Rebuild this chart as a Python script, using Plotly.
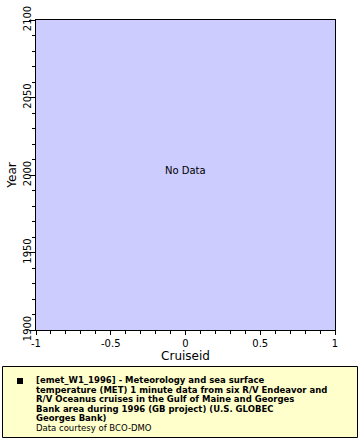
import plotly.graph_objects as go

# Data (empty: chart shows "No Data")
cruiseid = []
year = []
x_range = [-1, 1]
y_range = [1900, 2100]
x_tick_vals = [-1, -0.5, 0, 0.5, 1]
x_tick_text = ["-1", "-0.5", "0", "0.5", "1"]
y_tick_vals = [1900, 1950, 2000, 2050, 2100]
y_tick_text = ["1900", "1950", "2000", "2050", "2100"]
legend_lines = [
    "<b>[emet_W1_1996] - Meteorology and sea surface</b>",
    "<b>temperature (MET) 1 minute data from six R/V Endeavor and</b>",
    "<b>R/V Oceanus cruises in the Gulf of Maine and Georges</b>",
    "<b>Bank area during 1996 (GB project) (U.S. GLOBEC</b>",
    "<b>Georges Bank)</b>",
    "Data courtesy of BCO-DMO",
]

FONT = "DejaVu Sans"
W, H = 360, 440
L, R, T, B = 36, 25, 20, 110
pw, ph = W - L - R, H - T - B

def px_x(p):
    return (p - L) / pw

def px_y(p):
    return (H - B - p) / ph

fig = go.Figure()
fig.add_trace(go.Scatter(x=cruiseid, y=year, mode="markers", showlegend=False))

fig.update_layout(
    width=W, height=H,
    margin=dict(l=L, r=R, t=T, b=B, pad=0, autoexpand=False),
    paper_bgcolor="white",
    plot_bgcolor="#ccccff",
    font=dict(family=FONT, size=10, color="black"),
    showlegend=False,
    xaxis=dict(
        range=x_range, tickvals=x_tick_vals, ticktext=x_tick_text, automargin=False,
        ticks="outside", ticklen=4, tickwidth=1, tickcolor="black",
        minor=dict(dtick=0.1, tick0=-1, ticks="outside", ticklen=3, tickcolor="black", showgrid=False),
        showgrid=False, zeroline=False, showline=True, linecolor="black", linewidth=1, mirror=True,
        title=dict(text="Cruiseid", font=dict(size=12), standoff=2),
        tickfont=dict(size=10),
    ),
    yaxis=dict(
        range=y_range, tickvals=y_tick_vals, ticktext=y_tick_text, tickangle=-90, automargin=False,
        ticks="outside", ticklen=6, tickwidth=1, tickcolor="black",
        ticklabelstandoff=-6,
        minor=dict(dtick=10, tick0=1900, ticks="outside", ticklen=3, tickcolor="black", showgrid=False),
        showgrid=False, zeroline=False, showline=True, linecolor="black", linewidth=1, mirror=True,
        title=dict(text="Year", font=dict(size=12), standoff=2),
        tickfont=dict(size=10),
    ),
)

fig.add_annotation(x=0.5, y=px_y(170), xref="paper", yref="paper", text="No Data",
                   showarrow=False, font=dict(size=10, family=FONT))

# legend box
fig.add_shape(type="rect", xref="paper", yref="paper",
              x0=px_x(2.5), x1=px_x(357.5), y0=px_y(366.5), y1=px_y(437.5),
              line=dict(color="black", width=1), fillcolor="#ffffcc", layer="above")
fig.add_shape(type="rect", xref="paper", yref="paper",
              x0=px_x(17), x1=px_x(23), y0=px_y(378), y1=px_y(384),
              line=dict(width=0), fillcolor="black", layer="above")
line_y = [380, 389.5, 399, 408.5, 418, 427.5]
for txt, yy in zip(legend_lines, line_y):
    fig.add_annotation(x=px_x(35), y=px_y(yy), xref="paper", yref="paper",
                       xanchor="left", yanchor="middle", text=txt, showarrow=False,
                       borderpad=0, font=dict(size=8.5, family=FONT, color="black"))

fig.write_html("out.html")
